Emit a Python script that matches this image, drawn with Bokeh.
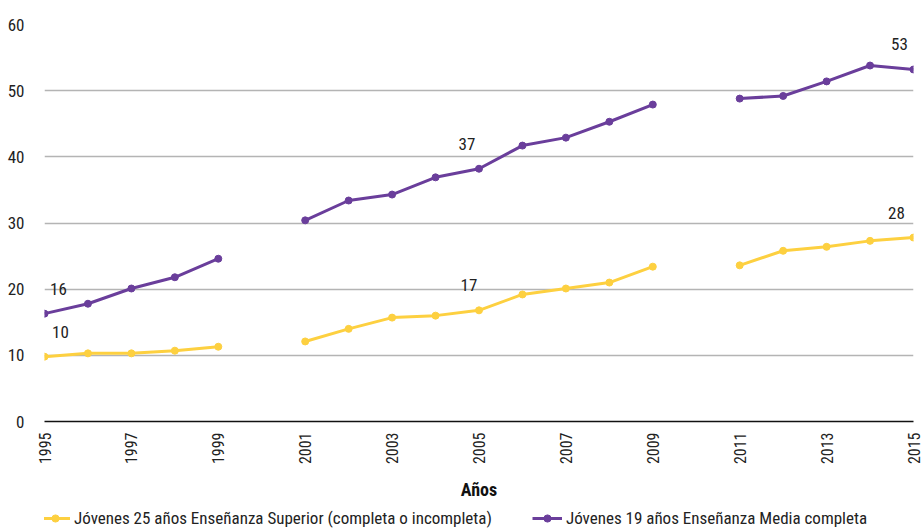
import math
from bokeh.plotting import figure
from bokeh.layouts import column
from bokeh.models import ColumnDataSource, Range1d, FixedTicker, Legend, LegendItem
from bokeh.core.properties import value
from bokeh.embed import file_html
from bokeh.resources import INLINE

years = list(range(1995, 2016))
media = [16.3, 17.8, 20.1, 21.8, 24.6, None, 30.4, 33.4, 34.3, 36.9, 38.2,
         41.7, 42.9, 45.3, 47.9, None, 48.8, 49.2, 51.4, 53.8, 53.2]
superior = [9.8, 10.3, 10.3, 10.7, 11.3, None, 12.1, 14.0, 15.7, 16.0, 16.8,
            19.2, 20.1, 21.0, 23.4, None, 23.6, 25.8, 26.4, 27.3, 27.8]
x_ticks = list(range(1995, 2016, 2))
y_ticks = [0, 10, 20, 30, 40, 50, 60]

label_years = [1995, 2005, 2015]
label_media = ["16", "37", "53"]
label_sup = ["10", "17", "28"]

name_sup = "Jóvenes 25 años Enseñanza Superior (completa o incompleta)"
name_media = "Jóvenes 19 años Enseñanza Media completa"

PURPLE = "#6a3e9b"
YELLOW = "#fdd040"
FONT = "'Roboto Condensed', 'DejaVu Sans Condensed', 'Liberation Sans Narrow', 'Open Sans', sans-serif"

def nan(v):
    return [float("nan") if a is None else a for a in v]

src = ColumnDataSource(dict(x=years, media=nan(media), sup=nan(superior)))

p = figure(frame_width=869, frame_height=397, output_backend="svg", toolbar_location=None,
           x_range=Range1d(1995, 2015), y_range=Range1d(0, 60),
           min_border_left=44, min_border_right=10, min_border_top=24,
           min_border_bottom=87)
p.outline_line_color = None

def draw(fig):
    a = fig.line("x", "sup", source=src, color=YELLOW, line_width=3)
    b = fig.scatter("x", "sup", source=src, color=YELLOW, size=7)
    c = fig.line("x", "media", source=src, color=PURPLE, line_width=3)
    d = fig.scatter("x", "media", source=src, color=PURPLE, size=7)
    return a, b, c, d

draw(p)

def lookup(vals, yrs):
    return [vals[years.index(y)] for y in yrs]

msrc = ColumnDataSource(dict(x=label_years, y=lookup(media, label_years), t=label_media,
                             xo=[14, -12, -14]))
ssrc = ColumnDataSource(dict(x=label_years, y=lookup(superior, label_years), t=label_sup,
                             xo=[16, -10, -17]))
for s in (msrc, ssrc):
    p.text("x", "y", text="t", source=s, x_offset="xo", y_offset=-19,
           text_font=value(FONT), text_font_size="17px", text_color="#222222",
           text_align="center", text_baseline="bottom")

p.xaxis.ticker = FixedTicker(ticks=x_ticks)
p.yaxis.ticker = FixedTicker(ticks=y_ticks)
p.xaxis.major_label_orientation = math.pi / 2
p.xaxis.axis_label = "Años"
p.xaxis.axis_label_text_font = FONT
p.xaxis.axis_label_text_font_style = "bold"
p.xaxis.axis_label_text_font_size = "18px"
p.xaxis.axis_label_text_color = "#111111"
p.xaxis.axis_label_standoff = 12
for ax in (p.xaxis, p.yaxis):
    ax.major_label_text_font = FONT
    ax.major_label_text_font_size = "16px"
    ax.major_label_text_color = "#222222"
    ax.major_tick_line_color = None
    ax.minor_tick_line_color = None
p.yaxis.major_label_text_font_size = "17px"
p.xaxis.axis_line_color = "#111111"
p.xaxis.axis_line_width = 1.5
p.xaxis.major_label_standoff = 5
p.yaxis.axis_line_color = None
p.yaxis.major_label_standoff = 14
p.xgrid.grid_line_color = None
p.ygrid.grid_line_color = "#b4b4b4"
p.ygrid.grid_line_width = 1.5

# legend row, as its own strip below the chart (data kept out of its view)
lf = figure(width=923, height=22, output_backend="svg", toolbar_location=None,
            x_range=Range1d(0, 1), y_range=Range1d(0, 1),
            x_axis_type=None, y_axis_type=None,
            min_border_left=0, min_border_right=0, min_border_top=0, min_border_bottom=0)
lf.outline_line_color = None
lf.xgrid.visible = False
lf.ygrid.visible = False
a, b, c, d = draw(lf)

legend = Legend(items=[LegendItem(label=name_sup, renderers=[a, b]),
                       LegendItem(label=name_media, renderers=[c, d])],
                orientation="horizontal", location=(-4, 2),
                label_text_font=FONT, label_text_font_size="17px",
                label_text_color="#222222", spacing=40, padding=0,
                margin=0, glyph_width=30, glyph_height=18, label_height=18,
                label_standoff=4,
                border_line_color=None, background_fill_alpha=0)
lf.add_layout(legend, "center")

layout = column(p, lf, spacing=0)
open("out.html", "w").write(file_html(layout, INLINE))
